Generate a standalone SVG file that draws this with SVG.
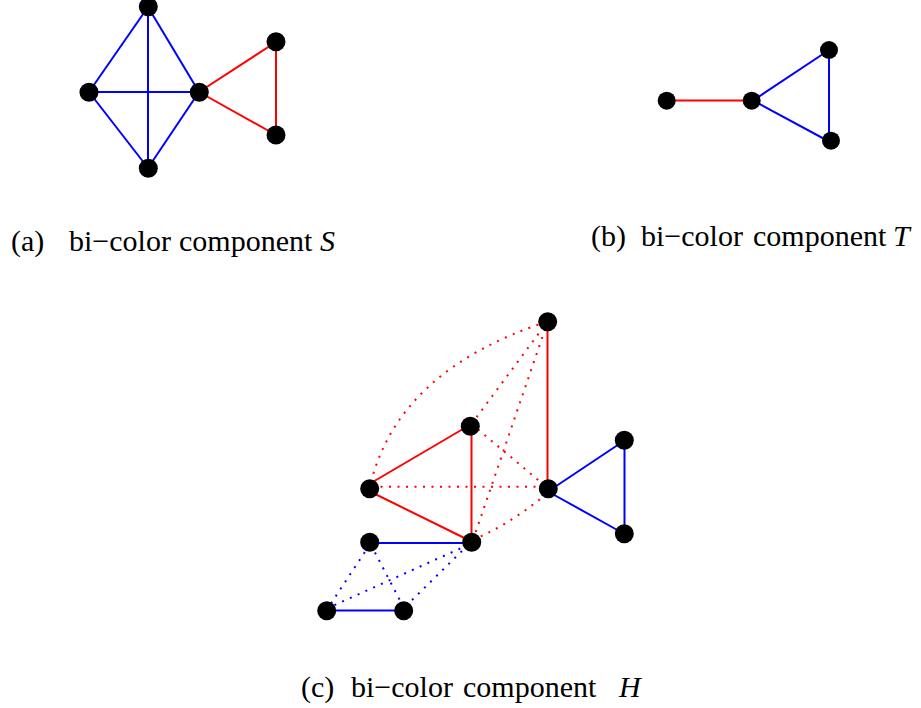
<svg xmlns="http://www.w3.org/2000/svg" width="921" height="708" viewBox="0 0 921 708">
<style>
.r{stroke:#ff0000;stroke-width:2;fill:none}
.b{stroke:#0000ff;stroke-width:2;fill:none}
.d{stroke-dasharray:2 6.5}
.n{fill:#000}
.t{font-family:"Liberation Serif","Times New Roman",serif;font-size:30px;fill:#000}
.i{font-style:italic}
</style>
<rect width="921" height="708" fill="#fff"/>
<g id="connectors">
<!-- (a) -->
<line class="b" x1="148" y1="7" x2="89" y2="92"/>
<line class="b" x1="148" y1="7" x2="199" y2="92"/>
<line class="b" x1="148" y1="7" x2="148" y2="168"/>
<line class="b" x1="89" y1="92" x2="199" y2="92"/>
<line class="b" x1="89" y1="92" x2="148" y2="168"/>
<line class="b" x1="199" y1="92" x2="148" y2="168"/>
<line class="r" x1="199" y1="92" x2="276" y2="42"/>
<line class="r" x1="199" y1="92" x2="276" y2="135"/>
<line class="r" x1="276" y1="42" x2="276" y2="135"/>
<!-- (b) -->
<line class="r" x1="667" y1="100.5" x2="752" y2="100.5"/>
<line class="b" x1="753" y1="100.5" x2="829" y2="50"/>
<line class="b" x1="829" y1="50" x2="829" y2="141.5"/>
<line class="b" x1="829" y1="141.5" x2="753" y2="100.5"/>
<!-- (c) red solid -->
<line class="r" x1="371" y1="483" x2="471.5" y2="424"/>
<line class="r" x1="370" y1="491.5" x2="471.5" y2="541.5"/>
<line class="r" x1="471.5" y1="424" x2="471.5" y2="542"/>
<line class="r" x1="547.5" y1="322" x2="547.5" y2="491.5"/>
<!-- (c) blue solid -->
<line class="b" x1="548" y1="491.5" x2="624.5" y2="440.5"/>
<line class="b" x1="624.5" y1="440.5" x2="624.5" y2="534"/>
<line class="b" x1="624.5" y1="534" x2="548" y2="491.5"/>
<line class="b" x1="370" y1="543" x2="471.5" y2="543"/>
<line class="b" x1="328" y1="610.5" x2="403.5" y2="610.5"/>
<!-- (c) red dotted -->
<path class="r d" d="M371,482 Q400,370 546,322"/>
<line class="r d" x1="372" y1="486.7" x2="547" y2="486.7"/>
<line class="r d" x1="471.5" y1="424" x2="546.5" y2="323"/>
<line class="r d" x1="471.5" y1="424" x2="546.5" y2="487"/>
<line class="r d" x1="473" y1="540" x2="546.5" y2="325"/>
<path class="r d" d="M473,540 Q514,522 547,493"/>
<!-- (c) blue dotted -->
<line class="b d" x1="369.5" y1="545" x2="328" y2="608"/>
<line class="b d" x1="371" y1="545" x2="404" y2="608"/>
<line class="b d" x1="468" y1="545" x2="328" y2="608"/>
<line class="b d" x1="468" y1="545" x2="406" y2="606"/>
</g>
<g id="a-nodes">
<circle id="a1" class="n" cx="148.3" cy="6.7" r="9.5"/>
<circle id="a2" class="n" cx="89" cy="92.3" r="9.5"/>
<circle id="a3" class="n" cx="199.3" cy="92.3" r="9.5"/>
<circle id="a4" class="n" cx="148.3" cy="168.3" r="9.5"/>
<circle id="a5" class="n" cx="276" cy="41.7" r="9.5"/>
<circle id="a6" class="n" cx="276" cy="135" r="9.5"/>
</g>
<g id="b-nodes">
<circle id="b1" class="n" cx="666.7" cy="100.7" r="9"/>
<circle id="b2" class="n" cx="751.7" cy="100.7" r="9"/>
<circle id="b3" class="n" cx="829" cy="50" r="9"/>
<circle id="b4" class="n" cx="831" cy="140.7" r="9"/>
</g>
<g id="c-nodes">
<circle id="c1" class="n" cx="547.7" cy="321.7" r="9.5"/>
<circle id="c2" class="n" cx="470.3" cy="426.3" r="9.5"/>
<circle id="c3" class="n" cx="369.7" cy="488.7" r="9.5"/>
<circle id="c4" class="n" cx="548.3" cy="488.7" r="9.5"/>
<circle id="c5" class="n" cx="471.7" cy="542.3" r="9.5"/>
<circle id="c6" class="n" cx="369.7" cy="542.3" r="9.5"/>
<circle id="c7" class="n" cx="326.7" cy="610.7" r="9.5"/>
<circle id="c8" class="n" cx="403.7" cy="610.7" r="9.5"/>
<circle id="c9" class="n" cx="624.3" cy="440.3" r="9.5"/>
<circle id="c10" class="n" cx="624.3" cy="533.7" r="9.5"/>
</g>
<g id="labels">
<text class="t" y="251"><tspan x="11">(a)</tspan><tspan x="69">bi−color</tspan><tspan x="179">component</tspan><tspan class="i" x="320">S</tspan></text>
<text class="t" y="246"><tspan x="591">(b)</tspan><tspan x="641">bi−color</tspan><tspan x="753">component</tspan><tspan class="i" x="893">T</tspan></text>
<text class="t" y="697"><tspan x="301">(c)</tspan><tspan x="351">bi−color</tspan><tspan x="463">component</tspan><tspan class="i" x="619">H</tspan></text>
</g>
</svg>
